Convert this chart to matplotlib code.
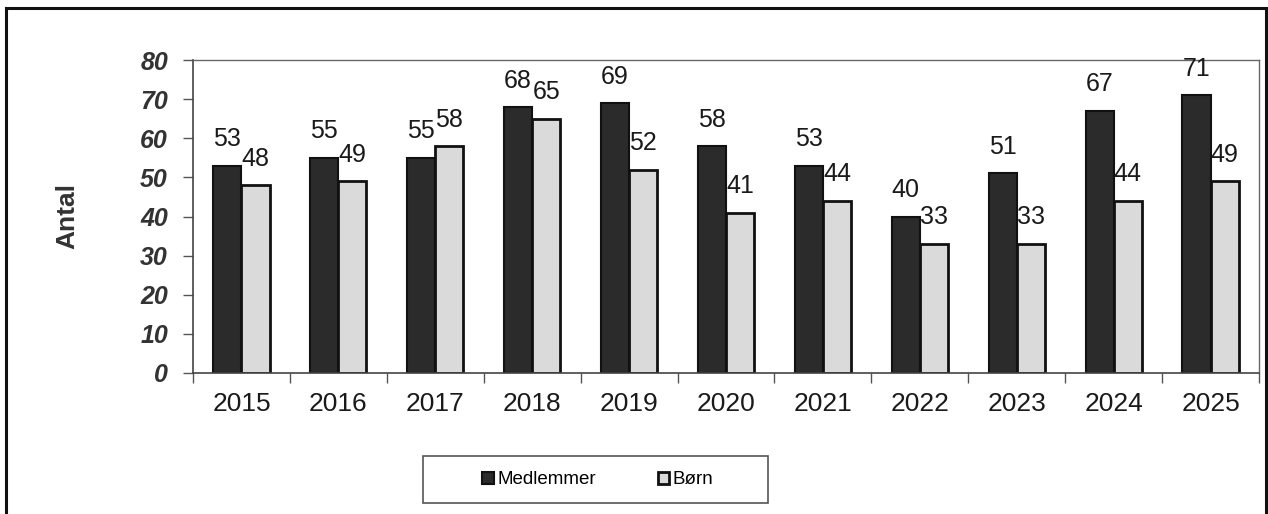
import numpy as np
import matplotlib.pyplot as plt
from matplotlib.patches import Rectangle

# Data
years = ['2015', '2016', '2017', '2018', '2019', '2020', '2021', '2022', '2023', '2024', '2025']
medlemmer = [53, 55, 55, 68, 69, 58, 53, 40, 51, 67, 71]
boern = [48, 49, 58, 65, 52, 41, 44, 33, 33, 44, 49]

plt.rcParams['font.family'] = ['Liberation Sans', 'DejaVu Sans']

fig = plt.figure(figsize=(12.68, 5.14), dpi=100)
ax = fig.add_axes([193/1268, 1 - 373/514, (1259 - 193)/1268, (373 - 60)/514])

x = np.arange(len(years))
w = 0.29

b1 = ax.bar(x - w/2, medlemmer, w, color='#2b2b2b', edgecolor='#111111', linewidth=1.5,
            label='Medlemmer')
b2 = ax.bar(x + w/2, boern, w, color='#dadada', edgecolor='#111111', linewidth=2,
            label='Børn')

# data labels
for bars, vals in [(b1, medlemmer), (b2, boern)]:
    for r, v in zip(bars, vals):
        ax.annotate(str(v), (r.get_x() + r.get_width()/2, v), xytext=(0, 19),
                    textcoords='offset points', ha='center', va='center',
                    fontsize=18, color='#1a1a1a')

ax.set_xlim(-0.5, len(years) - 0.5)
ax.set_ylim(0, 80)
ax.set_yticks(range(0, 81, 10))

ax.set_xticks(x)
ax.set_xticklabels(years, fontsize=19, color='#1a1a1a')
ax.set_xticks(np.arange(-0.5, len(years), 1), minor=True)
ax.tick_params(axis='x', which='major', length=0, pad=14)
ax.tick_params(axis='x', which='minor', length=7, width=1, color='#555555', direction='out')
ax.tick_params(axis='y', length=7, width=1, color='#555555', direction='out', pad=11)
for lab in ax.get_yticklabels():
    lab.set_fontsize(18)
    lab.set_fontweight('bold')
    lab.set_fontstyle('italic')
    lab.set_color('#333333')

for s in ['left', 'bottom']:
    ax.spines[s].set_color('#444444')
    ax.spines[s].set_linewidth(1.2)
for s in ['top', 'right']:
    ax.spines[s].set_color('#666666')
    ax.spines[s].set_linewidth(1.0)

fig.text(67/1268, 1 - 216/514, 'Antal', rotation=90, ha='center', va='center',
         fontsize=19, fontweight='bold', color='#333333')

# legend
leg = fig.legend(handles=[b1, b2], loc='center', bbox_to_anchor=(598/1268, 1 - 480/514),
                 ncol=2, frameon=False, fontsize=13.5, handlelength=0.6, handleheight=0.6,
                 handletextpad=0.2, columnspacing=3.3)
fig.patches.append(Rectangle((423/1268, 1 - 503/514), (768 - 423)/1268, 47/514,
                             transform=fig.transFigure, fill=False, edgecolor='#555555',
                             linewidth=1.2))

# outer frame
fig.patches.append(Rectangle((6/1268, -0.05), (1266 - 6)/1268, 1 - 8/514 + 0.05,
                             transform=fig.transFigure, fill=False, edgecolor='#111111',
                             linewidth=2.2, clip_on=False))

fig.savefig('out.png', dpi=100)
